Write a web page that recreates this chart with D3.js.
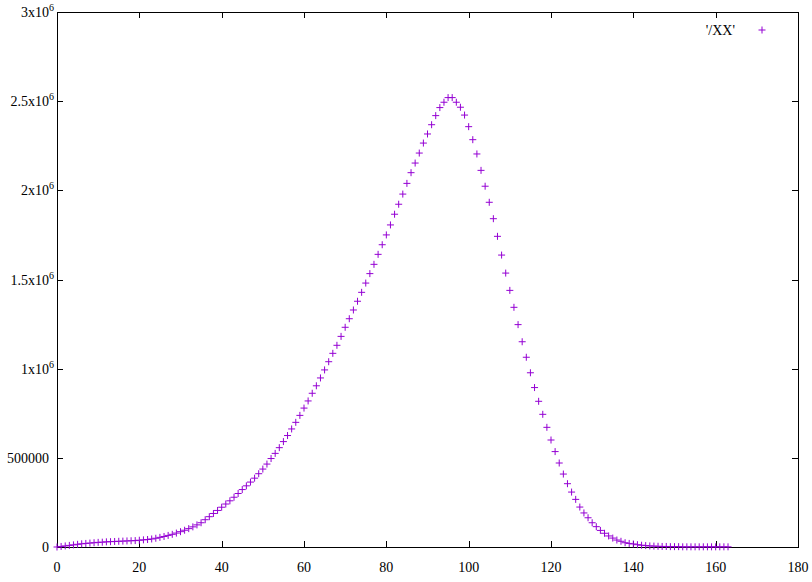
<!DOCTYPE html>
<html>
<head>
<meta charset="utf-8">
<script src="https://cdn.jsdelivr.net/npm/d3@7/dist/d3.min.js"></script>
<style>
  html, body { margin: 0; padding: 0; background: #fff; }
  svg { display: block; }
  svg text { font-family: 'Liberation Serif', 'DejaVu Serif', serif; font-size: 14px; fill: #000; }
</style>
</head>
<body>
<svg id="chart" width="812" height="582"></svg>
<script>
// Data (values in millions), x = 0..163
const xValues = d3.range(0, 164);
const yMillions = [
  0.000, 0.003, 0.006, 0.009, 0.012, 0.015, 0.018, 0.020, 0.022, 0.024,
  0.026, 0.027, 0.029, 0.030, 0.031, 0.032, 0.033, 0.034, 0.035, 0.036,
  0.038, 0.040, 0.042, 0.045, 0.049, 0.054, 0.059, 0.065, 0.071, 0.078,
  0.086, 0.094, 0.103, 0.113, 0.124, 0.136, 0.153, 0.170, 0.188, 0.205,
  0.223, 0.241, 0.259, 0.279, 0.300, 0.322, 0.343, 0.364, 0.386, 0.411,
  0.437, 0.465, 0.496, 0.525, 0.557, 0.591, 0.625, 0.662, 0.699, 0.738,
  0.779, 0.819, 0.862, 0.904, 0.948, 0.993, 1.039, 1.086, 1.131, 1.181,
  1.232, 1.280, 1.329, 1.378, 1.428, 1.480, 1.533, 1.585, 1.641, 1.695,
  1.750, 1.806, 1.866, 1.922, 1.979, 2.039, 2.099, 2.153, 2.209, 2.265,
  2.316, 2.368, 2.419, 2.464, 2.494, 2.520, 2.520, 2.494, 2.466, 2.422,
  2.357, 2.284, 2.204, 2.112, 2.023, 1.933, 1.841, 1.742, 1.637, 1.536,
  1.439, 1.344, 1.247, 1.151, 1.064, 0.977, 0.894, 0.817, 0.744, 0.671,
  0.600, 0.535, 0.471, 0.409, 0.355, 0.308, 0.267, 0.224, 0.191, 0.164,
  0.136, 0.114, 0.093, 0.077, 0.062, 0.050, 0.039, 0.032, 0.024, 0.020,
  0.017, 0.013, 0.010, 0.008, 0.006, 0.005, 0.004, 0.003, 0.003, 0.002,
  0.002, 0.002, 0.001, 0.001, 0.001, 0.001, 0.001, 0.001, 0.001, 0.001,
  0.001, 0.001, 0.001, 0.001
];
const seriesName = "'/XX'";
const xTicks = [0, 20, 40, 60, 80, 100, 120, 140, 160, 180];
const yTicks = [0, 500000, 1000000, 1500000, 2000000, 2500000, 3000000];
const yTickLabels = [["0", ""], ["500000", ""], ["1x10", "6"], ["1.5x10", "6"], ["2x10", "6"], ["2.5x10", "6"], ["3x10", "6"]];

const data = xValues.map((x, i) => ({ x: x, y: yMillions[i] * 1e6 }));

const svg = d3.select("#chart");
const L = 57, R = 798, T = 12, B = 547;
const color = "#9400d3";
const FONT = "'Liberation Serif', 'DejaVu Serif', serif";

const x = d3.scaleLinear().domain([0, 180]).range([L, R]);
const y = d3.scaleLinear().domain([0, 3000000]).range([B, T]);

// Ticks (inward, mirrored)
const tickLen = 6;
const axisG = svg.append("g").attr("stroke", "#000").attr("stroke-width", 1);
xTicks.forEach(t => {
  const px = Math.round(x(t)) + 0.5;
  axisG.append("line").attr("x1", px).attr("x2", px).attr("y1", B).attr("y2", B - tickLen);
  axisG.append("line").attr("x1", px).attr("x2", px).attr("y1", T).attr("y2", T + tickLen);
});
yTicks.forEach(t => {
  const py = Math.round(y(t)) + 0.5;
  axisG.append("line").attr("x1", L).attr("x2", L + tickLen).attr("y1", py).attr("y2", py);
  axisG.append("line").attr("x1", R).attr("x2", R - tickLen).attr("y1", py).attr("y2", py);
});

// Tick labels
xTicks.forEach(t => {
  svg.append("text").attr("font-family", FONT).attr("x", x(t)).attr("y", 572)
    .attr("text-anchor", "middle").text(t);
});
yTicks.forEach((t, i) => {
  const lab = yTickLabels[i];
  svg.append("text").attr("font-family", FONT).attr("x", 49).attr("y", y(t) + 5)
    .attr("text-anchor", "end").text(lab[0]);
  if (lab[1]) {
    svg.append("text").attr("font-family", FONT).attr("x", 49).attr("y", y(t) - 1)
      .style("font-size", "10px").text(lab[1]);
  }
});

// Frame
svg.append("rect").attr("x", L + 0.5).attr("y", T + 0.5).attr("width", R - L).attr("height", B - T)
  .attr("fill", "none").attr("stroke", "#000").attr("stroke-width", 1);

// Points as plus markers
const s = 3.5;
const pts = svg.append("g").attr("stroke", color).attr("stroke-width", 1).attr("fill", "none");
pts.selectAll("path").data(data).join("path")
  .attr("d", d => {
    const cx = x(d.x), cy = y(d.y);
    return `M${cx - s},${cy}H${cx + s}M${cx},${cy - s}V${cy + s}`;
  });

// Legend
svg.append("text").attr("font-family", FONT).attr("x", 735).attr("y", 35)
  .attr("text-anchor", "end").text(seriesName);
const lx = 762, ly = 30;
svg.append("path").attr("d", `M${lx - s},${ly}H${lx + s}M${lx},${ly - s}V${ly + s}`)
  .attr("stroke", color).attr("stroke-width", 1);
</script>
</body>
</html>
